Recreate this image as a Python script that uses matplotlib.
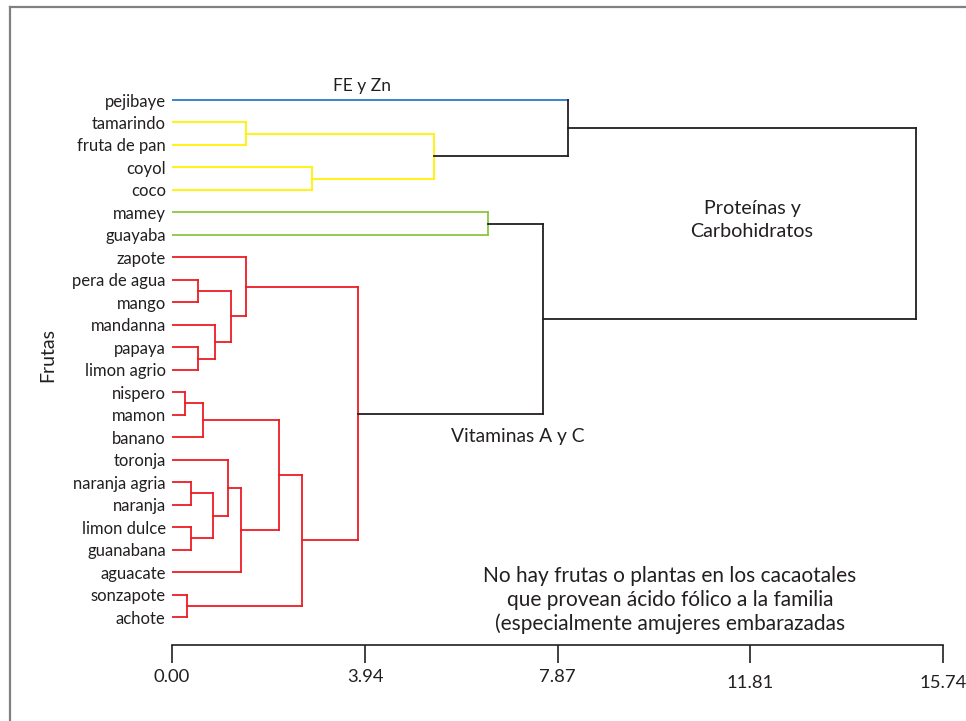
import matplotlib.pyplot as plt
from matplotlib.lines import Line2D
from matplotlib.transforms import ScaledTranslation

plt.rcParams['font.family'] = ['Lato', 'DejaVu Sans']

# leaves, top to bottom
frutas = ["pejibaye", "tamarindo", "fruta de pan", "coyol", "coco", "mamey",
          "guayaba", "zapote", "pera de agua", "mango", "mandanna", "papaya",
          "limon agrio", "nispero", "mamon", "banano", "toronja",
          "naranja agria", "naranja", "limon dulce", "guanabana", "aguacate",
          "sonzapote", "achote"]

# merges, scipy style: node ids >= 24 are earlier merges
izq = [13, 22, 17, 19, 8, 11, 24, 26, 10, 16, 28, 33, 1, 7, 30, 38, 3, 37, 36, 5, 43, 0, 45]
der = [14, 23, 18, 20, 9, 12, 15, 27, 29, 31, 32, 21, 2, 34, 35, 25, 4, 39, 40, 6, 41, 42, 44]
altura = [0.27, 0.31, 0.39, 0.39, 0.53, 0.53, 0.63, 0.84, 0.88, 1.14, 1.20, 1.41,
          1.51, 1.51, 2.18, 2.65, 2.86, 3.80, 5.35, 6.45, 7.57, 8.08, 15.19]
grupo = ["vit"] * 12 + ["fe", "vit", "vit", "vit", "fe", "vit", "fe", "verde",
                        "raiz", "raiz", "raiz"]
hoja_grupo = {"pejibaye": "azul"}

ticks = [0.00, 3.94, 7.87, 11.81, 15.74]
tick_labels = ["0.00", "3.94", "7.87", "11.81", "15.74"]

colores = {"vit": "#ed1c24", "fe": "#fff200", "verde": "#8dc63f",
           "raiz": "#231f20", "azul": "#2b7bc8"}
txt = "#231f20"

W, H = 966, 721
fig = plt.figure(figsize=(W / 100, H / 100), dpi=100)


def px(x, y):
    return x / W, 1 - y / H


ax = fig.add_axes([172 / W, (H - 645) / H, (943 - 172) / W, (645 - 40) / H])

n = len(frutas)
ypos = {i: float(i) for i in range(n)}
hx = {i: 0.0 for i in range(n)}
for k, (a, b, h) in enumerate(zip(izq, der, altura)):
    node = n + k
    col = colores[grupo[k]]
    for c in (a, b):
        cc = col
        if c < n and frutas[c] in hoja_grupo:
            cc = colores[hoja_grupo[frutas[c]]]
        ax.plot([hx[c], h], [ypos[c], ypos[c]], color=cc, lw=1.3,
                solid_capstyle='projecting')
    ax.plot([h, h], [ypos[a], ypos[b]], color=col, lw=1.3,
            solid_capstyle='projecting')
    ypos[node] = (ypos[a] + ypos[b]) / 2
    hx[node] = h

ax.set_xlim(0, 15.74)
ax.set_ylim((645 - 100) / 22.48, (40 - 100) / 22.48)
for s in ("left", "top", "right"):
    ax.spines[s].set_visible(False)
ax.spines["bottom"].set_color(txt)
ax.spines["bottom"].set_linewidth(1.2)

ax.set_yticks(range(n))
ax.set_yticklabels(frutas, fontsize=12, color=txt)
ax.tick_params(axis='y', length=0, pad=4.5)

ax.set_xticks(ticks)
ax.set_xticklabels(tick_labels, fontsize=13.3, color=txt)
ax.tick_params(axis='x', length=13, width=1.2, color=txt, pad=4.5)
for lab in ax.get_xticklabels()[3:]:
    lab.set_transform(lab.get_transform() + ScaledTranslation(0, -6 / 100, fig.dpi_scale_trans))

fig.text(*px(48, 355), "Frutas", rotation=90, ha='center', va='center', fontsize=14, color=txt)
fig.text(*px(362, 86), "FE y Zn", ha='center', va='center', fontsize=12.5, color=txt)
fig.text(*px(752, 220), "Proteínas y\nCarbohidratos", ha='center', va='center',
         fontsize=14.2, color=txt, linespacing=1.4)
fig.text(*px(518, 437), "Vitaminas A y C", ha='center', va='center', fontsize=13.9, color=txt)
fig.text(*px(670, 600), "No hay frutas o plantas en los cacaotales\n"
         "que provean ácido fólico a la familia\n"
         "(especialmente amujeres embarazadas",
         ha='center', va='center', fontsize=15, color=txt, linespacing=1.22)

# marco
fig.add_artist(Line2D([10 / W, 10 / W], [0, 1 - 7 / H], color="#808080", lw=1.6))
fig.add_artist(Line2D([10 / W, 1], [1 - 7 / H, 1 - 7 / H], color="#808080", lw=1.6))

fig.savefig("out.png", dpi=100)
